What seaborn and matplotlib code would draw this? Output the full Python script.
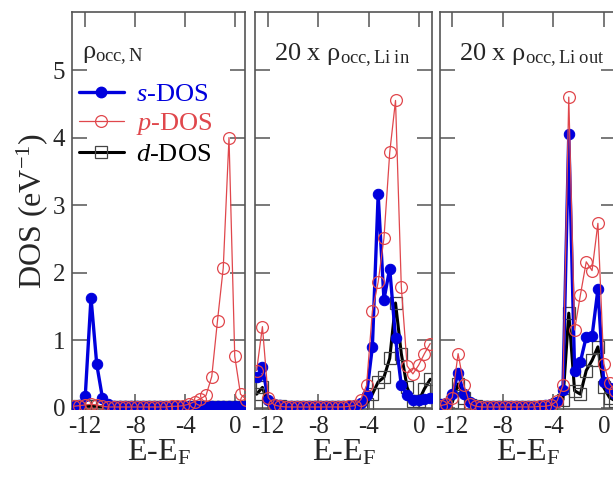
import matplotlib
matplotlib.use("Agg")
import matplotlib.pyplot as plt
from matplotlib.lines import Line2D
import pandas as pd
import seaborn as sns

# Energy grid (eV, relative to the Fermi level)
energy = [-12.9, -12.44, -11.98, -11.52, -11.06, -10.6, -10.14, -9.68, -9.22, -8.76,
          -8.3, -7.84, -7.38, -6.92, -6.46, -6.0, -5.54, -5.08, -4.62, -4.16,
          -3.7, -3.24, -2.78, -2.32, -1.86, -1.4, -0.94, -0.48, -0.02, 0.44, 0.9]

# Projected DOS on N
n_s = [0.02, 0.04, 0.17, 1.63, 0.64, 0.14, 0.05, 0.03, 0.03, 0.03,
       0.03, 0.03, 0.03, 0.03, 0.03, 0.03, 0.03, 0.03, 0.03, 0.03,
       0.03, 0.03, 0.03, 0.03, 0.03, 0.03, 0.03, 0.03, 0.03, 0.03, 0.03]
n_p = [0.02, 0.03, 0.04, 0.05, 0.04, 0.02, 0.01, 0.01, 0.01, 0.01,
       0.01, 0.01, 0.01, 0.01, 0.01, 0.01, 0.01, 0.02, 0.02, 0.03,
       0.05, 0.09, 0.13, 0.18, 0.46, 1.29, 2.07, 4.0, 0.76, 0.2, 0.12]
n_d = [0.01, 0.02, 0.02, 0.02, 0.02, 0.01, 0.01, 0.01, 0.01, 0.01,
       0.01, 0.01, 0.01, 0.01, 0.01, 0.01, 0.01, 0.01, 0.01, 0.01,
       0.01, 0.01, 0.01, 0.01, 0.01, 0.01, 0.01, 0.01, 0.01, 0.01, 0.01]

# Projected DOS on the inner Li site (scaled by 20)
li_in_s = [0.45, 0.6, 0.12, 0.06, 0.04, 0.03, 0.03, 0.03, 0.03, 0.03,
           0.03, 0.03, 0.03, 0.03, 0.03, 0.03, 0.03, 0.04, 0.07, 0.19,
           0.9, 3.16, 1.6, 2.06, 1.03, 0.33, 0.19, 0.11, 0.11, 0.13, 0.14]
li_in_p = [0.55, 1.2, 0.15, 0.04, 0.02, 0.01, 0.01, 0.01, 0.01, 0.01,
           0.01, 0.01, 0.01, 0.01, 0.01, 0.01, 0.02, 0.03, 0.12, 0.33,
           1.43, 1.86, 2.51, 3.78, 4.55, 1.79, 0.62, 0.5, 0.63, 0.8, 0.95]
li_in_d = [0.2, 0.3, 0.05, 0.02, 0.02, 0.01, 0.01, 0.01, 0.01, 0.01,
           0.01, 0.01, 0.01, 0.01, 0.01, 0.01, 0.01, 0.01, 0.02, 0.06,
           0.2, 0.38, 0.45, 0.73, 1.55, 0.8, 0.3, 0.1, 0.1, 0.28, 0.42]

# Projected DOS on the outer Li site (scaled by 20)
li_out_s = [0.05, 0.07, 0.2, 0.51, 0.2, 0.08, 0.04, 0.03, 0.03, 0.03,
            0.03, 0.03, 0.03, 0.03, 0.03, 0.03, 0.03, 0.03, 0.04, 0.05,
            0.08, 0.26, 4.06, 0.55, 0.68, 1.05, 1.06, 1.75, 0.38, 0.29, 0.2]
li_out_p = [0.03, 0.05, 0.15, 0.8, 0.33, 0.06, 0.02, 0.01, 0.01, 0.01,
            0.01, 0.01, 0.01, 0.01, 0.01, 0.01, 0.01, 0.02, 0.02, 0.04,
            0.1, 0.33, 4.6, 1.15, 1.67, 2.16, 2.03, 2.73, 0.65, 0.36, 0.25]
li_out_d = [0.02, 0.03, 0.08, 0.35, 0.15, 0.04, 0.02, 0.01, 0.01, 0.01,
            0.01, 0.01, 0.01, 0.01, 0.01, 0.01, 0.01, 0.01, 0.01, 0.02,
            0.05, 0.12, 1.4, 0.25, 0.2, 0.55, 0.7, 0.9, 0.3, 0.15, 0.1]

panel_titles = [r"ρ$_{\mathrm{occ,N}}$",
                r"20 x ρ$_{\mathrm{occ,Li\ in}}$",
                r"20 x ρ$_{\mathrm{occ,Li\ out}}$"]
x_ticks = [-12, -8, -4, 0]
y_ticks = [0, 1, 2, 3, 4, 5]

panels = [(n_s, n_p, n_d), (li_in_s, li_in_p, li_in_d), (li_out_s, li_out_p, li_out_d)]

sns.set_theme(style="ticks")
plt.rcParams["font.family"] = ["Liberation Serif", "DejaVu Serif"]
plt.rcParams["mathtext.fontset"] = "custom"
plt.rcParams["mathtext.rm"] = "Liberation Serif"
plt.rcParams["mathtext.it"] = "Liberation Serif:italic"
plt.rcParams["mathtext.bf"] = "Liberation Serif:bold"
plt.rcParams["axes.unicode_minus"] = False

W, H = 613, 482
fig = plt.figure(figsize=(W / 100, H / 100), dpi=100)

# axes boxes in pixels: (left, right), common top/bottom
boxes = [(72, 245), (255, 432), (440, 616)]
top_px, bot_px = 12, 409
xlims = [(-13.04, 0.8), (-13.03, 1.04), (-12.95, 0.95)]

s_color = "#0000dd"
p_color = "#e0474c"
d_color = "black"
spine_c = "#555555"

axes = []
for i, ((l, r), (s_v, p_v, d_v)) in enumerate(zip(boxes, panels)):
    ax = fig.add_axes([l / W, (H - bot_px) / H, (r - l) / W, (bot_px - top_px) / H])
    df = pd.DataFrame({"E": energy, "s": s_v, "p": p_v, "d": d_v})
    sns.lineplot(data=df, x="E", y="d", ax=ax, color=d_color, lw=2.2, sort=False,
                 estimator=None, marker="s", markersize=8, mfc="none",
                 mec="#444444", mew=0.9, zorder=2)
    sns.lineplot(data=df, x="E", y="s", ax=ax, color=s_color, lw=2.4, sort=False,
                 estimator=None, marker="o", markersize=7.5, mfc=s_color,
                 mec=s_color, zorder=3)
    sns.lineplot(data=df, x="E", y="p", ax=ax, color=p_color, lw=0.9, sort=False,
                 estimator=None, marker="o", markersize=8.5, mfc="none",
                 mec=p_color, mew=0.9, zorder=4)
    ax.set_xlim(*xlims[i])
    ax.set_ylim(-0.02, 5.86)
    ax.set_xticks(x_ticks)
    ax.set_yticks(y_ticks)
    ax.tick_params(direction="in", length=11, width=1.1, color=spine_c,
                   top=True, right=True, labelsize=18, pad=5)
    for sp in ax.spines.values():
        sp.set_color(spine_c)
        sp.set_linewidth(1.2)
    if i > 0:
        ax.set_yticklabels([])
        ax.set_ylabel("")
    else:
        ax.set_ylabel(r"DOS (eV$^{\mathrm{-1}}$)", fontsize=23, labelpad=2)
    ax.set_xlabel(r"E-E$_{\mathrm{F}}$", fontsize=23, labelpad=0)
    ax.text(0.06 if i == 0 else 0.11, 0.89, panel_titles[i], transform=ax.transAxes,
            fontsize=19, ha="left", va="center")
    axes.append(ax)

handles = [
    Line2D([], [], color=s_color, lw=2.4, marker="o", markersize=7.5, mfc=s_color, mec=s_color),
    Line2D([], [], color=p_color, lw=0.9, marker="o", markersize=8.5, mfc="none", mec=p_color, mew=0.9),
    Line2D([], [], color=d_color, lw=2.2, marker="s", markersize=8, mfc="none", mec="#444444", mew=0.9),
]
labels = [r"$s$-DOS", r"$p$-DOS", r"$d$-DOS"]
leg = axes[0].legend(handles, labels, loc="upper left", bbox_to_anchor=(0.04, 0.822),
                     frameon=False, fontsize=19, handlelength=1.7, handletextpad=0.45,
                     labelspacing=0.2, borderaxespad=0.0, borderpad=0.0)
for txt, c in zip(leg.get_texts(), [s_color, p_color, d_color]):
    txt.set_color(c)

fig.savefig("out.png", dpi=100)
